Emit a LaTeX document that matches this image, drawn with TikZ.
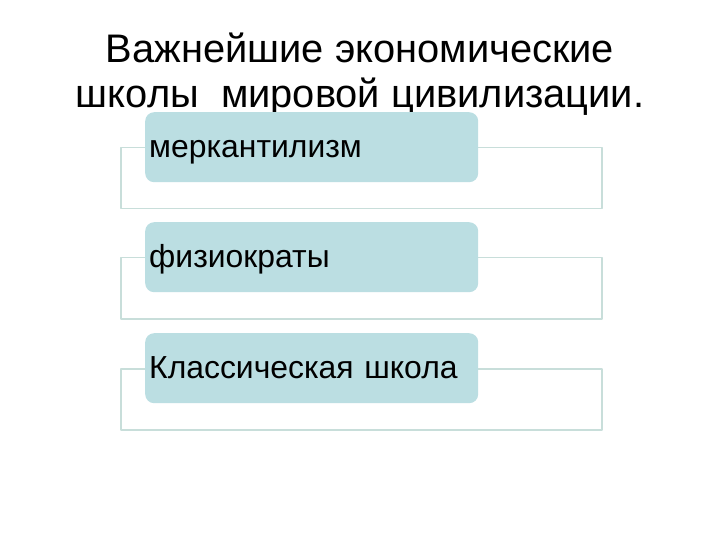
\documentclass[tikz,border=0pt]{standalone}
\usepackage{fontspec}
\setmainfont{Liberation Sans}
\definecolor{boxfill}{RGB}{187,222,226}
\definecolor{frameline}{RGB}{200,222,218}
\begin{document}
\begin{tikzpicture}[x=1bp, y=-1bp, line join=round]
	\tikzset{
		frame/.style={draw=frameline, line width=1.5bp, fill=white, minimum width=481bp, minimum height=61bp, anchor=north west, inner sep=0pt},
		item/.style={fill=boxfill, rounded corners=9bp, minimum width=333bp, minimum height=70bp, anchor=north west, inner xsep=4bp, inner ysep=0pt, text width=325bp, text height=25bp, text depth=5bp, align=left, font=\fontsize{32}{36}\selectfont}
	}
	\useasboundingbox (0,0) rectangle (720,540);
	%Заголовок
	\node[align=center, font=\fontsize{40}{45}\selectfont] (title) at (360,74)
		{Важнейшие экономические\\школы\ \ мировой цивилизации.};
	%Блоки
	\foreach \y/\t/\n in {112/меркантилизм/a, 222/физиократы/b, 333/Классическая школа/c}{
		\node[frame] (f\n) at (120,\y+35) {};
		\node[item] (\n) at (145,\y) {\t};
	}
\end{tikzpicture}
\end{document}
